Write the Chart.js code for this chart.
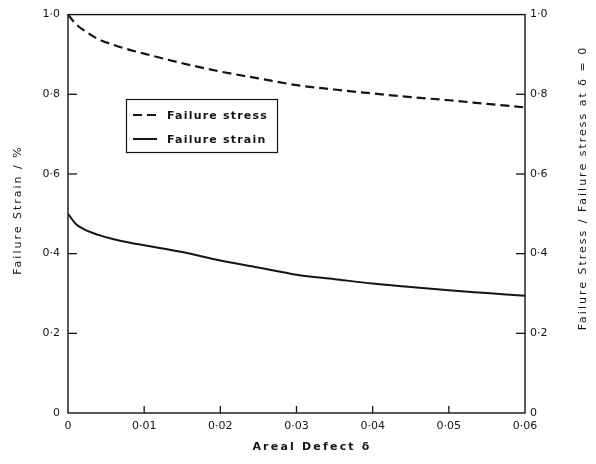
<!DOCTYPE html>
<html>
<head>
<meta charset="utf-8">
<script src="https://cdn.jsdelivr.net/npm/chart.js@4.4.1/dist/chart.umd.min.js"></script>
<style>
  html, body { margin: 0; padding: 0; background: #fff; }
</style>
</head>
<body>
<canvas id="chart" width="596" height="464"></canvas>
<script>
// areal defect (x) and the two curves
const delta  = [0, 0.001, 0.002, 0.004, 0.006, 0.008, 0.01, 0.015, 0.02, 0.025, 0.03, 0.035, 0.04, 0.045, 0.05, 0.055, 0.06];
const stress = [1.0, 0.977, 0.962, 0.938, 0.924, 0.912, 0.902, 0.878, 0.857, 0.84, 0.823, 0.812, 0.802, 0.793, 0.785, 0.776, 0.767];
const strain = [0.5, 0.475, 0.462, 0.447, 0.436, 0.428, 0.421, 0.404, 0.383, 0.365, 0.347, 0.336, 0.325, 0.316, 0.308, 0.301, 0.294];

const xLabels = ['0', '0·01', '0·02', '0·03', '0·04', '0·05', '0·06'];
const yLabels = ['0', '0·2', '0·4', '0·6', '0·8', '1·0'];
const seriesNames = ['Failure stress', 'Failure strain'];

const INK = '#141414';
const FONT = '"DejaVu Sans", sans-serif';

const pts = ys => delta.map((d, i) => ({ x: d, y: ys[i] }));

// frame, inward ticks, titles and the boxed legend
const frame = {
  id: 'frame',
  afterDraw(c) {
    const { ctx, chartArea: a, scales } = c;
    ctx.save();
    ctx.strokeStyle = INK; ctx.fillStyle = INK;
    ctx.lineWidth = 1.4;
    ctx.strokeRect(a.left, a.top, a.right - a.left, a.bottom - a.top);

    ctx.lineWidth = 1.3;
    scales.y.ticks.forEach(t => {
      if (t.value <= 0 || t.value >= 1) return;
      const y = scales.y.getPixelForValue(t.value);
      ctx.beginPath(); ctx.moveTo(a.left, y); ctx.lineTo(a.left + 9, y); ctx.stroke();
    });
    scales.y2.ticks.forEach(t => {
      if (t.value <= 0 || t.value >= 1) return;
      const y = scales.y2.getPixelForValue(t.value);
      ctx.beginPath(); ctx.moveTo(a.right, y); ctx.lineTo(a.right - 9, y); ctx.stroke();
    });
    scales.x.ticks.forEach(t => {
      if (t.value <= 0 || t.value >= 0.0599) return;
      const x = scales.x.getPixelForValue(t.value);
      ctx.beginPath(); ctx.moveTo(x, a.bottom); ctx.lineTo(x, a.bottom - 7); ctx.stroke();
    });

    // axis titles
    ctx.font = '11px ' + FONT;
    ctx.letterSpacing = '2px';
    ctx.textAlign = 'center'; ctx.textBaseline = 'middle';
    ctx.save(); ctx.translate(18, 210); ctx.rotate(-Math.PI / 2);
    ctx.fillText('Failure Strain / %', 0, 0); ctx.restore();
    ctx.save(); ctx.translate(583, 188); ctx.rotate(-Math.PI / 2);
    ctx.fillText('Failure Stress / Failure stress at δ = 0', 0, 0); ctx.restore();
    ctx.font = 'bold 11px ' + FONT;
    ctx.letterSpacing = '2.2px';
    ctx.fillText('Areal Defect δ', 312, 447);

    // legend
    ctx.letterSpacing = '1.2px';
    ctx.lineWidth = 1.2;
    ctx.strokeRect(126.5, 99.5, 151, 53);
    ctx.font = 'bold 11px ' + FONT;
    ctx.textAlign = 'left';
    c.data.datasets.forEach((ds, i) => {
      const y = 115 + i * 24;
      ctx.lineWidth = 2;
      ctx.setLineDash(ds.borderDash || []);
      ctx.beginPath(); ctx.moveTo(133, y); ctx.lineTo(157, y); ctx.stroke();
      ctx.setLineDash([]);
      ctx.fillText(ds.label, 167, y + 1);
    });
    ctx.restore();
  }
};

new Chart(document.getElementById('chart'), {
  type: 'line',
  data: {
    datasets: [
      { label: seriesNames[0], data: pts(stress), yAxisID: 'y2', borderColor: INK, borderWidth: 2.2,
        borderDash: [9, 5], pointRadius: 0, cubicInterpolationMode: 'monotone' },
      { label: seriesNames[1], data: pts(strain), yAxisID: 'y', borderColor: INK, borderWidth: 2,
        pointRadius: 0, cubicInterpolationMode: 'monotone' }
    ]
  },
  options: {
    responsive: false,
    animation: false,
    layout: { padding: { top: 10, left: 0, right: 0, bottom: 0 } },
    plugins: { legend: { display: false }, tooltip: { enabled: false } },
    scales: {
      x: {
        type: 'linear', min: 0, max: 0.06,
        grid: { display: false, drawTicks: false }, border: { display: false },
        ticks: { stepSize: 0.01, padding: 7, color: INK, font: { family: FONT, size: 11 },
                 maxRotation: 0, callback: (v) => xLabels[Math.round(v * 100)] },
        afterFit: s => { s.height = 51; }
      },
      y: {
        position: 'left', min: 0, max: 1,
        grid: { display: false, drawTicks: false }, border: { display: false },
        ticks: { stepSize: 0.2, padding: 8, color: INK, font: { family: FONT, size: 11 },
                 callback: (v) => yLabels[Math.round(v * 5)] },
        afterFit: s => { s.width = 68; }
      },
      y2: {
        position: 'right', min: 0, max: 1,
        grid: { display: false, drawTicks: false }, border: { display: false },
        ticks: { stepSize: 0.2, padding: 5, color: INK, font: { family: FONT, size: 11 },
                 callback: (v) => yLabels[Math.round(v * 5)] },
        afterFit: s => { s.width = 71; }
      }
    }
  },
  plugins: [frame]
});
</script>
</body>
</html>
